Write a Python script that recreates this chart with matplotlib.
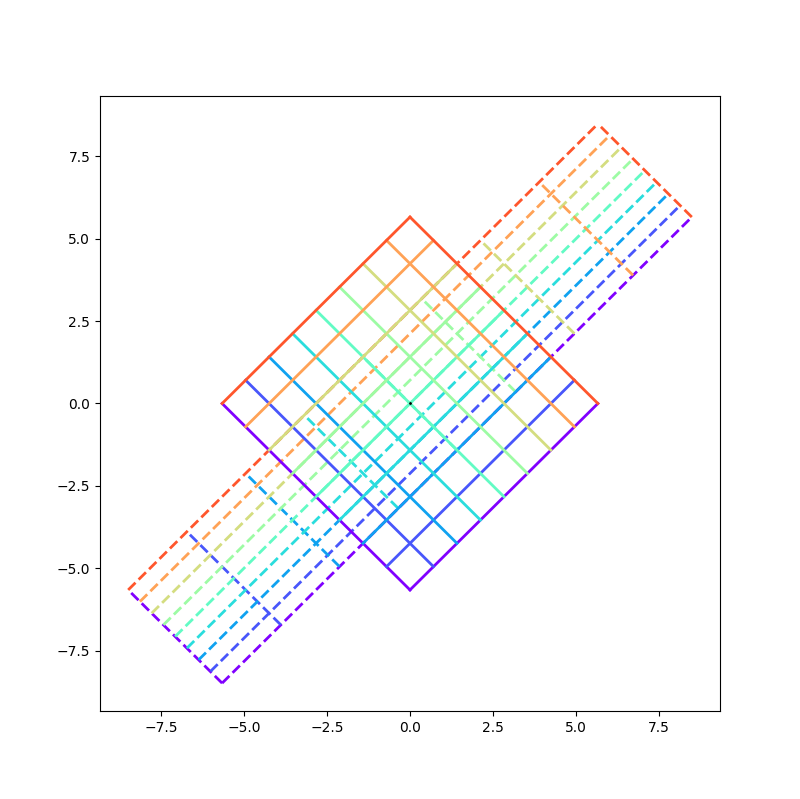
import numpy as np
import matplotlib
matplotlib.use("Agg")
import matplotlib.pyplot as plt

# grid coordinates of the original square grid
grid_vals = np.arange(-4, 5)          # -4 .. 4, nine lines per direction
stretch = [2.5, 0.5]                  # scaling applied for the dashed grid
angle_deg = 45                        # rotation of both grids

theta = np.deg2rad(angle_deg)
R = np.array([[np.cos(theta), -np.sin(theta)],
              [np.sin(theta), np.cos(theta)]])
S = np.diag(stretch)

n = len(grid_vals)
colors = plt.cm.rainbow(np.arange(n) / n)
lo, hi = grid_vals[0], grid_vals[-1]


def draw_grid(ax, M, ls):
    for i, v in enumerate(grid_vals):
        # line x = v
        pts = M @ np.array([[v, v], [lo, hi]])
        ax.plot(pts[0], pts[1], ls, color=colors[i], lw=2)
        # line y = v
        pts = M @ np.array([[lo, hi], [v, v]])
        ax.plot(pts[0], pts[1], ls, color=colors[i], lw=2)


fig, ax = plt.subplots(figsize=(8, 7.99), dpi=100)

draw_grid(ax, R @ S, "--")
draw_grid(ax, R, "-")
ax.plot(0, 0, "k.", markersize=2)

fig.savefig("out.png")
